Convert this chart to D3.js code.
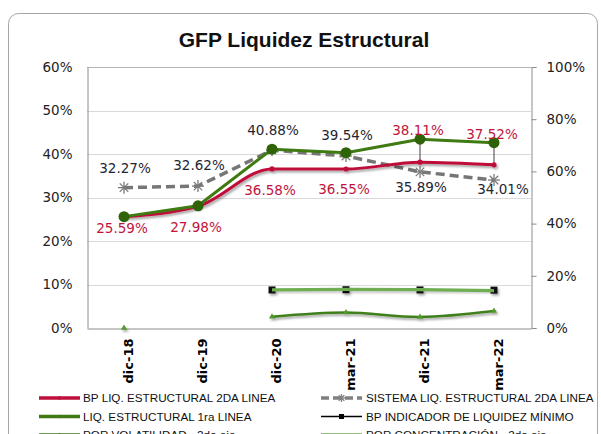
<!DOCTYPE html>
<html>
<head>
<meta charset="utf-8">
<script src="https://cdn.jsdelivr.net/npm/d3@7"></script>
<style>
  body { margin: 0; background: #fff; }
  svg { display: block; }
</style>
</head>
<body>
<svg id="chart" width="601" height="434"></svg>
<script>
// GFP Liquidez Estructural - combo line chart, two y axes
const categories = ["dic-18", "dic-19", "dic-20", "mar-21", "dic-21", "mar-22"];

const bpLiq2da     = [25.59, 27.98, 36.58, 36.55, 38.11, 37.52];
const sistemaLiq2da = [32.27, 32.62, 40.88, 39.54, 35.89, 34.01];
const liq1ra       = [25.6, 28.1, 41.1, 40.3, 43.4, 42.6];
const bpIndicador  = [null, null, 8.75, 8.8, 8.75, 8.7];
const porVolatilidad = [0, null, 4.3, 5.9, 4.2, 6.5];      // 2do eje
const porConcentracion = [null, null, 14.6, 14.8, 14.7, 14.3]; // 2do eje

const leftTicks = [0, 10, 20, 30, 40, 50, 60];
const rightTicks = [0, 20, 40, 60, 80, 100];

const W = 601, H = 434;
const plot = { left: 87, right: 531, top: 67, bottom: 328 };

const svg = d3.select("#chart");
const defs = svg.append("defs");

// soft drop shadow like excel
const sh = defs.append("filter").attr("id", "shadow")
  .attr("x", "-10%").attr("y", "-50%").attr("width", "120%").attr("height", "200%");
sh.append("feDropShadow").attr("dx", 1.5).attr("dy", 2).attr("stdDeviation", 1.3)
  .attr("flood-color", "#000").attr("flood-opacity", 0.35);

// outer frame (bottom is cut off in the picture)
svg.append("rect")
  .attr("x", 8.5).attr("y", 13.5).attr("width", 589).attr("height", 460)
  .attr("rx", 10).attr("fill", "#fff").attr("stroke", "#a6a6a6").attr("stroke-width", 1);

svg.append("text")
  .attr("x", 304).attr("y", 47).attr("text-anchor", "middle")
  .attr("font-family", "Liberation Sans, Arial, sans-serif")
  .attr("font-weight", "700").attr("font-size", 21).attr("fill", "#111")
  .text("GFP Liquidez Estructural");

const x = d3.scaleBand().domain(categories).range([plot.left, plot.right]).padding(0);
const cx = c => x(c) + x.bandwidth() / 2;
const yL = d3.scaleLinear().domain([0, 60]).range([plot.bottom, plot.top]);
const yR = d3.scaleLinear().domain([0, 100]).range([plot.bottom, plot.top]);

// gridlines
svg.append("g").selectAll("line")
  .data(leftTicks.filter(t => t > 0)).join("line")
  .attr("x1", plot.left).attr("x2", plot.right)
  .attr("y1", d => Math.round(yL(d)) + 0.5).attr("y2", d => Math.round(yL(d)) + 0.5)
  .attr("stroke", d => d === 60 ? "#b4b4b4" : "#d9d9d9").attr("stroke-width", 1);

// left axis
const axL = svg.append("g").attr("transform", `translate(${plot.left + 0.5},0)`)
  .call(d3.axisLeft(yL).tickValues(leftTicks).tickSize(0).tickPadding(15).tickFormat(d => d + "%"));
axL.select(".domain").attr("stroke", "#8c8c8c");
axL.selectAll("text").attr("font-family", "DejaVu Sans, Verdana, sans-serif")
  .attr("font-size", 13.5).attr("fill", "#222");

// right axis
const axR = svg.append("g").attr("transform", `translate(${plot.right + 0.5},0)`)
  .call(d3.axisRight(yR).tickValues(rightTicks).tickSize(5).tickPadding(10).tickFormat(d => d + "%"));
axR.select(".domain").attr("stroke", "#8c8c8c");
axR.selectAll("line").attr("stroke", "#8c8c8c");
axR.selectAll("text").attr("font-family", "DejaVu Sans, Verdana, sans-serif")
  .attr("font-size", 13.5).attr("fill", "#222");

// bottom axis
const axB = svg.append("g").attr("transform", `translate(0,${plot.bottom + 0.5})`)
  .call(d3.axisBottom(x).tickSize(0).tickPadding(0));
axB.select(".domain").attr("stroke", "#8c8c8c");
axB.selectAll("text")
  .attr("font-family", "DejaVu Sans, Verdana, sans-serif")
  .attr("font-weight", "700").attr("font-size", 13).attr("fill", "#000")
  .attr("text-anchor", "end")
  .attr("transform", "translate(4,10) rotate(-90)")
  .attr("x", 0).attr("y", 0).attr("dy", "0.35em");

const pts = (vals, y) => categories.map((c, i) => ({ c, v: vals[i], x: cx(c), y: vals[i] == null ? null : y(vals[i]) }));

function drawLine(vals, y, opt) {
  const data = pts(vals, y);
  const line = d3.line().defined(d => d.v != null).x(d => d.x).y(d => d.y).curve(opt.curve || d3.curveLinear);
  const g = svg.append("g").attr("filter", opt.shadow ? "url(#shadow)" : null);
  g.append("path").datum(data).attr("d", line)
    .attr("fill", "none").attr("stroke", opt.color).attr("stroke-width", opt.width)
    .attr("stroke-dasharray", opt.dash || null).attr("stroke-linejoin", "round");
  return { g, data: data.filter(d => d.v != null) };
}

const star = (sel, r, color) => {
  sel.each(function (d) {
    const s = d3.select(this);
    [0, 45, 90, 135].forEach(a => {
      const rad = a * Math.PI / 180;
      s.append("line")
        .attr("x1", d.x - r * Math.cos(rad)).attr("y1", d.y - r * Math.sin(rad))
        .attr("x2", d.x + r * Math.cos(rad)).attr("y2", d.y + r * Math.sin(rad))
        .attr("stroke", color).attr("stroke-width", 1.3);
    });
  });
};

// BP indicador (black, squares) under light green
const bpI = drawLine(bpIndicador, yL, { color: "#000", width: 1.5, shadow: true });
bpI.g.selectAll("rect").data(bpI.data).join("rect")
  .attr("x", d => d.x - 3.5).attr("y", d => d.y - 3.5).attr("width", 7).attr("height", 7)
  .attr("fill", "#111");

// por concentracion (light green, 2nd axis)
drawLine(porConcentracion, yR, { color: "#6fae52", width: 3.2, shadow: false });

// por volatilidad (dark green, 2nd axis)
const vol = drawLine(porVolatilidad, yR, { color: "#3f7f1a", width: 2.5, shadow: true, curve: d3.curveCatmullRom });
vol.g.selectAll("path.tri").data(vol.data).join("path").attr("class", "tri")
  .attr("transform", d => `translate(${d.x},${d.y})`)
  .attr("d", d3.symbol(d3.symbolTriangle, 16)).attr("fill", "#4f9a2a");

// drop lines between 1ra and 2da linea
svg.append("g").selectAll("line")
  .data(categories.slice(4)).join("line")
  .attr("x1", c => cx(c)).attr("x2", c => cx(c))
  .attr("y1", c => yL(liq1ra[categories.indexOf(c)]))
  .attr("y2", c => yL(bpLiq2da[categories.indexOf(c)]))
  .attr("stroke", "#404040").attr("stroke-width", 1);

// sistema (gray dashed, stars)
const sis = drawLine(sistemaLiq2da, yL, { color: "#767676", width: 3.5, dash: "9,5", shadow: false });
sis.g.selectAll("g.st").data(sis.data).join("g").attr("class", "st").call(star, 6, "#7a7a7a");

// BP 2da linea (crimson)
const bp = drawLine(bpLiq2da, yL, { color: "#bf0f3a", width: 3, shadow: true, curve: d3.curveMonotoneX });
bp.g.selectAll("circle").data(bp.data).join("circle")
  .attr("cx", d => d.x).attr("cy", d => d.y).attr("r", 2.6).attr("fill", "#bf0f3a");

// 1ra linea (green, dots)
const l1 = drawLine(liq1ra, yL, { color: "#3f7a12", width: 3, shadow: false });
l1.g.selectAll("circle").data(l1.data).join("circle")
  .attr("cx", d => d.x).attr("cy", d => d.y).attr("r", 5.5).attr("fill", "#2f6308");

// data labels
const bpLabelDy = [12, 21, 21, 20, -32, -31];
const sisLabelDy = [-19, -21, -20, -21, 15, 9];
const sisLabelDx = [0, 0, 0, 0, 0, 8];
const fmt = v => v.toFixed(2) + "%";
const labels = svg.append("g")
  .attr("font-family", "DejaVu Sans, Verdana, sans-serif").attr("font-size", 13.5)
  .attr("text-anchor", "middle");
labels.selectAll("text.bp").data(bp.data).join("text").attr("class", "bp")
  .attr("x", d => d.x - 2).attr("y", (d, i) => d.y + bpLabelDy[i]).attr("dy", "0.35em")
  .attr("fill", "#c0143c").text(d => fmt(d.v));
labels.selectAll("text.sis").data(sis.data).join("text").attr("class", "sis")
  .attr("x", (d, i) => d.x + 1 + sisLabelDx[i]).attr("y", (d, i) => d.y + sisLabelDy[i]).attr("dy", "0.35em")
  .attr("fill", "#1f2633").text(d => fmt(d.v));

// legend
const legendItems = [
  { name: "BP LIQ. ESTRUCTURAL 2DA LINEA", color: "#bf0f3a", width: 3.5, mark: "dot" },
  { name: "SISTEMA LIQ. ESTRUCTURAL 2DA LINEA", color: "#808080", width: 3.5, dash: "8,4", mark: "star" },
  { name: "LIQ. ESTRUCTURAL 1ra LINEA", color: "#3f7a12", width: 3.5, mark: "dot" },
  { name: "BP INDICADOR DE LIQUIDEZ MÍNIMO", color: "#000", width: 1.5, mark: "sq" },
  { name: "POR VOLATILIDAD - 2do eje", color: "#3f7f1a", width: 3.5, mark: "dot" },
  { name: "POR CONCENTRACIÓN - 2do eje", color: "#6fae52", width: 3.5, mark: "none" }
];
const legend = svg.append("g");
legendItems.forEach((it, i) => {
  const col = i % 2, row = Math.floor(i / 2);
  const lx = col ? 321 : 39, ly = 398 + row * 18.5;
  const g = legend.append("g").attr("transform", `translate(${lx},${ly})`);
  g.append("line").attr("x1", 0).attr("x2", 41).attr("y1", 0).attr("y2", 0)
    .attr("stroke", it.color).attr("stroke-width", it.width).attr("stroke-dasharray", it.dash || null);
  if (it.mark === "dot") g.append("circle").attr("cx", 20.5).attr("r", 1.8).attr("fill", it.color);
  if (it.mark === "sq") g.append("rect").attr("x", 18).attr("y", -2.5).attr("width", 5).attr("height", 5).attr("fill", "#000");
  if (it.mark === "star") g.datum({ x: 20.5, y: 0 }).call(s => star(s, 4, "#808080"));
  g.append("text").attr("x", col ? 45 : 44).attr("y", 0).attr("dy", "0.36em")
    .attr("font-family", "Liberation Sans, Arial, sans-serif").attr("font-size", 11.7)
    .attr("fill", "#111").text(it.name);
});
</script>
</body>
</html>
